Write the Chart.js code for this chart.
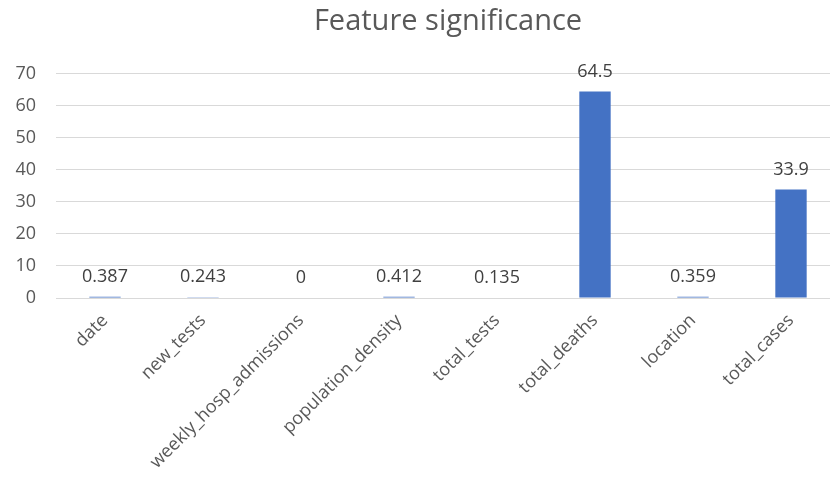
<!DOCTYPE html>
<html>
<head>
<meta charset="utf-8">
<script src="https://cdn.jsdelivr.net/npm/chart.js@4/dist/chart.umd.min.js"></script>
<style>
html,body{margin:0;padding:0;background:#fff;overflow:hidden;}
#wrap{width:840px;height:484px;position:relative;}
</style>
</head>
<body>
<div id="wrap"><canvas id="c" width="840" height="484"></canvas></div>
<script>
const categories = ["date","new_tests","weekly_hosp_admissions","population_density","total_tests","total_deaths","location","total_cases"];
const significance = [0.387, 0.243, 0, 0.412, 0.135, 64.5, 0.359, 33.9];
const valueLabels = ["0.387","0.243","0","0.412","0.135","64.5","0.359","33.9"];
const yTicks = [0,10,20,30,40,50,60,70];

const FONT = "'Open Sans', 'Liberation Sans', sans-serif";
const TXT = "#595959";

const dataLabels = {
  id: 'dataLabels',
  afterDatasetsDraw(chart) {
    const ctx = chart.ctx;
    const meta = chart.getDatasetMeta(0);
    ctx.save();
    ctx.font = "18px " + FONT;
    ctx.fillStyle = "#404040";
    ctx.textAlign = "center";
    ctx.textBaseline = "bottom";
    meta.data.forEach((bar, i) => {
      ctx.fillText(valueLabels[i], bar.x, bar.y - 11);
    });
    ctx.restore();
  }
};

new Chart(document.getElementById('c'), {
  type: 'bar',
  data: {
    labels: categories,
    datasets: [{
      data: significance,
      backgroundColor: '#4472C4',
      borderWidth: 0,
      barPercentage: 0.32,
      categoryPercentage: 1
    }]
  },
  options: {
    responsive: false,
    animation: false,
    devicePixelRatio: 1,
    layout: { padding: { left: 10, right: 0, top: 0, bottom: 0 } },
    plugins: {
      legend: { display: false },
      tooltip: { enabled: false },
      title: {
        display: true,
        text: 'Feature significance',
        fullSize: false,
        color: TXT,
        font: { family: FONT, size: 29, weight: 'normal' },
        padding: { top: 4, bottom: 35 }
      }
    },
    scales: {
      x: {
        grid: { display: false, drawTicks: false },
        border: { display: false },
        ticks: {
          color: TXT,
          font: { family: FONT, size: 18 },
          minRotation: 45,
          maxRotation: 45,
          autoSkip: false,
          padding: 12
        },
        afterFit(s) { s.height = 186; }
      },
      y: {
        min: 0,
        max: 70,
        afterBuildTicks(s) { s.ticks = yTicks.map(v => ({ value: v })); },
        grid: { color: '#d9d9d9', lineWidth: 1, drawTicks: false },
        border: { display: false },
        ticks: {
          color: TXT,
          font: { family: FONT, size: 18 },
          padding: 20
        },
        afterFit(s) { s.width = 46; }
      }
    }
  },
  plugins: [dataLabels]
});
</script>
</body>
</html>
